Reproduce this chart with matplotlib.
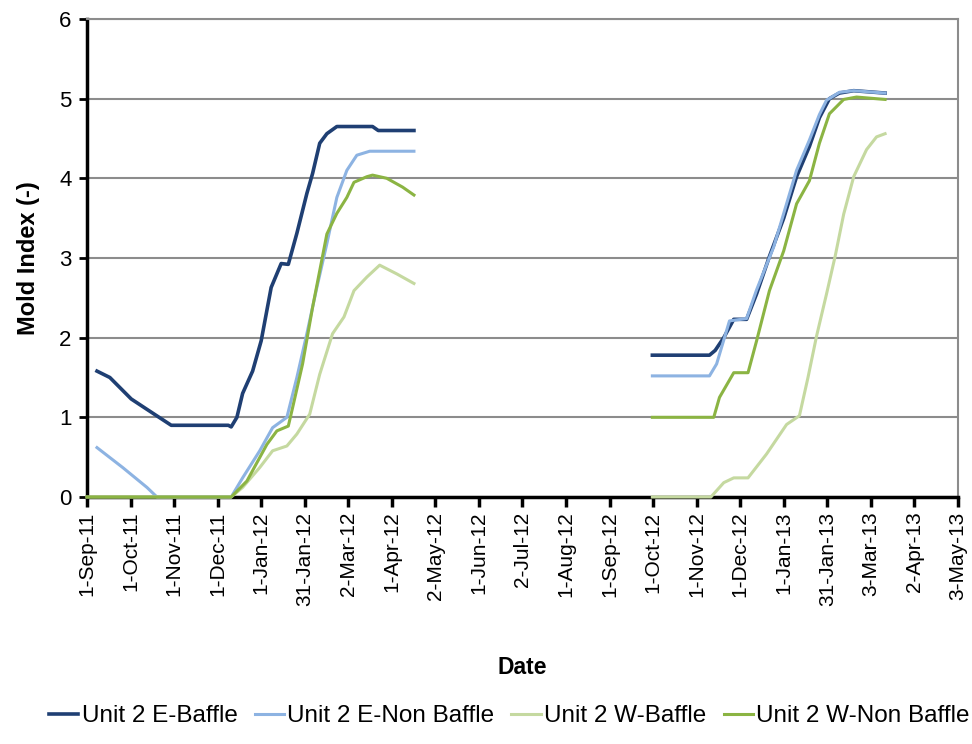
import numpy as np
import matplotlib.pyplot as plt

plt.rcParams['font.family'] = ['Liberation Sans', 'DejaVu Sans']

# x = days since 1-Sep-11
tick_labels = ['1-Sep-11', '1-Oct-11', '1-Nov-11', '1-Dec-11', '1-Jan-12', '31-Jan-12',
               '2-Mar-12', '1-Apr-12', '2-May-12', '1-Jun-12', '2-Jul-12', '1-Aug-12',
               '1-Sep-12', '1-Oct-12', '1-Nov-12', '1-Dec-12', '1-Jan-13', '31-Jan-13',
               '3-Mar-13', '2-Apr-13', '3-May-13']

# first season
e_baffle_d1 = [7, 16, 31, 42, 59, 99, 101, 105, 109, 116, 122, 129, 136, 141, 147, 154, 158, 163, 168, 175, 200, 204, 229]
e_baffle_v1 = [1.58, 1.50, 1.23, 1.10, 0.90, 0.90, 0.88, 1.00, 1.30, 1.58, 1.96, 2.63, 2.93, 2.92, 3.31, 3.81, 4.06, 4.44, 4.56, 4.65, 4.65, 4.60, 4.60]
e_nonbaffle_d1 = [7, 25, 42, 49, 101, 109, 121, 130, 140, 147, 154, 161, 168, 175, 182, 189, 198, 229]
e_nonbaffle_v1 = [0.62, 0.37, 0.12, 0.0, 0.0, 0.24, 0.58, 0.87, 1.00, 1.50, 2.05, 2.63, 3.18, 3.76, 4.10, 4.29, 4.34, 4.34]
w_baffle_d1 = [0, 101, 109, 121, 130, 140, 147, 156, 163, 172, 180, 187, 196, 205, 217, 229]
w_baffle_v1 = [0.0, 0.0, 0.12, 0.37, 0.58, 0.64, 0.79, 1.04, 1.54, 2.05, 2.26, 2.59, 2.76, 2.91, 2.80, 2.68]
w_nonbaffle_d1 = [0, 101, 112, 126, 133, 141, 144, 151, 158, 168, 175, 182, 187, 196, 200, 210, 221, 229]
w_nonbaffle_v1 = [0.0, 0.0, 0.20, 0.66, 0.83, 0.89, 1.12, 1.67, 2.38, 3.30, 3.56, 3.76, 3.95, 4.02, 4.04, 4.00, 3.89, 3.79]

# second season
e_baffle_d2 = [396, 436, 440, 446, 453, 462, 469, 478, 488, 497, 506, 513, 520, 527, 537, 559]
e_baffle_v2 = [1.78, 1.78, 1.84, 2.00, 2.23, 2.23, 2.55, 3.02, 3.50, 4.02, 4.40, 4.76, 5.00, 5.07, 5.10, 5.07]
e_nonbaffle_d2 = [396, 436, 441, 450, 462, 469, 481, 497, 506, 513, 518, 527, 537, 559]
e_nonbaffle_v2 = [1.52, 1.52, 1.67, 2.21, 2.24, 2.60, 3.14, 4.10, 4.48, 4.80, 4.98, 5.08, 5.10, 5.07]
w_baffle_d2 = [396, 437, 446, 453, 463, 476, 490, 499, 505, 511, 518, 524, 530, 537, 546, 553, 559]
w_baffle_v2 = [0.0, 0.0, 0.18, 0.24, 0.24, 0.54, 0.91, 1.02, 1.50, 2.02, 2.55, 3.02, 3.55, 4.02, 4.36, 4.52, 4.56]
w_nonbaffle_d2 = [396, 439, 443, 453, 463, 469, 478, 488, 497, 506, 513, 520, 530, 539, 559]
w_nonbaffle_v2 = [1.00, 1.00, 1.25, 1.56, 1.56, 1.96, 2.59, 3.09, 3.68, 3.97, 4.44, 4.81, 4.99, 5.02, 4.99]

series = [
    ('Unit 2 E-Baffle', '#1F3F73', 2.6, e_baffle_d1, e_baffle_v1, e_baffle_d2, e_baffle_v2),
    ('Unit 2 E-Non Baffle', '#8DB3E2', 2.2, e_nonbaffle_d1, e_nonbaffle_v1, e_nonbaffle_d2, e_nonbaffle_v2),
    ('Unit 2 W-Baffle', '#C5D9A0', 2.2, w_baffle_d1, w_baffle_v1, w_baffle_d2, w_baffle_v2),
    ('Unit 2 W-Non Baffle', '#8BB443', 2.2, w_nonbaffle_d1, w_nonbaffle_v1, w_nonbaffle_d2, w_nonbaffle_v2),
]

fig = plt.figure(figsize=(9.72, 7.44), dpi=100)
ax = fig.add_axes([0.0895, 0.332, 0.896, 0.6425])

for name, color, lw, d1, v1, d2, v2 in series:
    x = list(d1) + [np.nan] + list(d2)
    y = list(v1) + [np.nan] + list(v2)
    ax.plot(x, y, color=color, lw=lw, label=name, zorder=3, clip_on=False)

ticks = [30.5 * i for i in range(len(tick_labels))]
ax.set_xlim(0, 610)
ax.set_ylim(0, 6)
ax.set_xticks(ticks)
ax.set_xticklabels(tick_labels, rotation=90, fontsize=15)
ax.set_yticks(range(7))
ax.tick_params(axis='y', labelsize=16, length=6, width=2, direction='out', pad=5)
ax.tick_params(axis='x', length=7, width=2.5, direction='out')

ax.yaxis.grid(True, color='#8C8C8C', lw=1.5)
ax.set_axisbelow(True)
for s in ['left', 'bottom']:
    ax.spines[s].set_linewidth(2.5)
    ax.spines[s].set_color('black')
for s in ['top', 'right']:
    ax.spines[s].set_linewidth(1.5)
    ax.spines[s].set_color('#8C8C8C')

ax.set_ylabel('Mold Index (-)', fontsize=17, fontweight='bold', labelpad=14)
ax.set_xlabel('Date', fontsize=16.5, fontweight='bold', labelpad=36)

fig.legend(loc='center', bbox_to_anchor=(0.524, 0.037), ncol=4, frameon=False,
           fontsize=17.5, handlelength=1.2, handletextpad=0.15, columnspacing=0.7)

fig.savefig('out.png', dpi=100)
